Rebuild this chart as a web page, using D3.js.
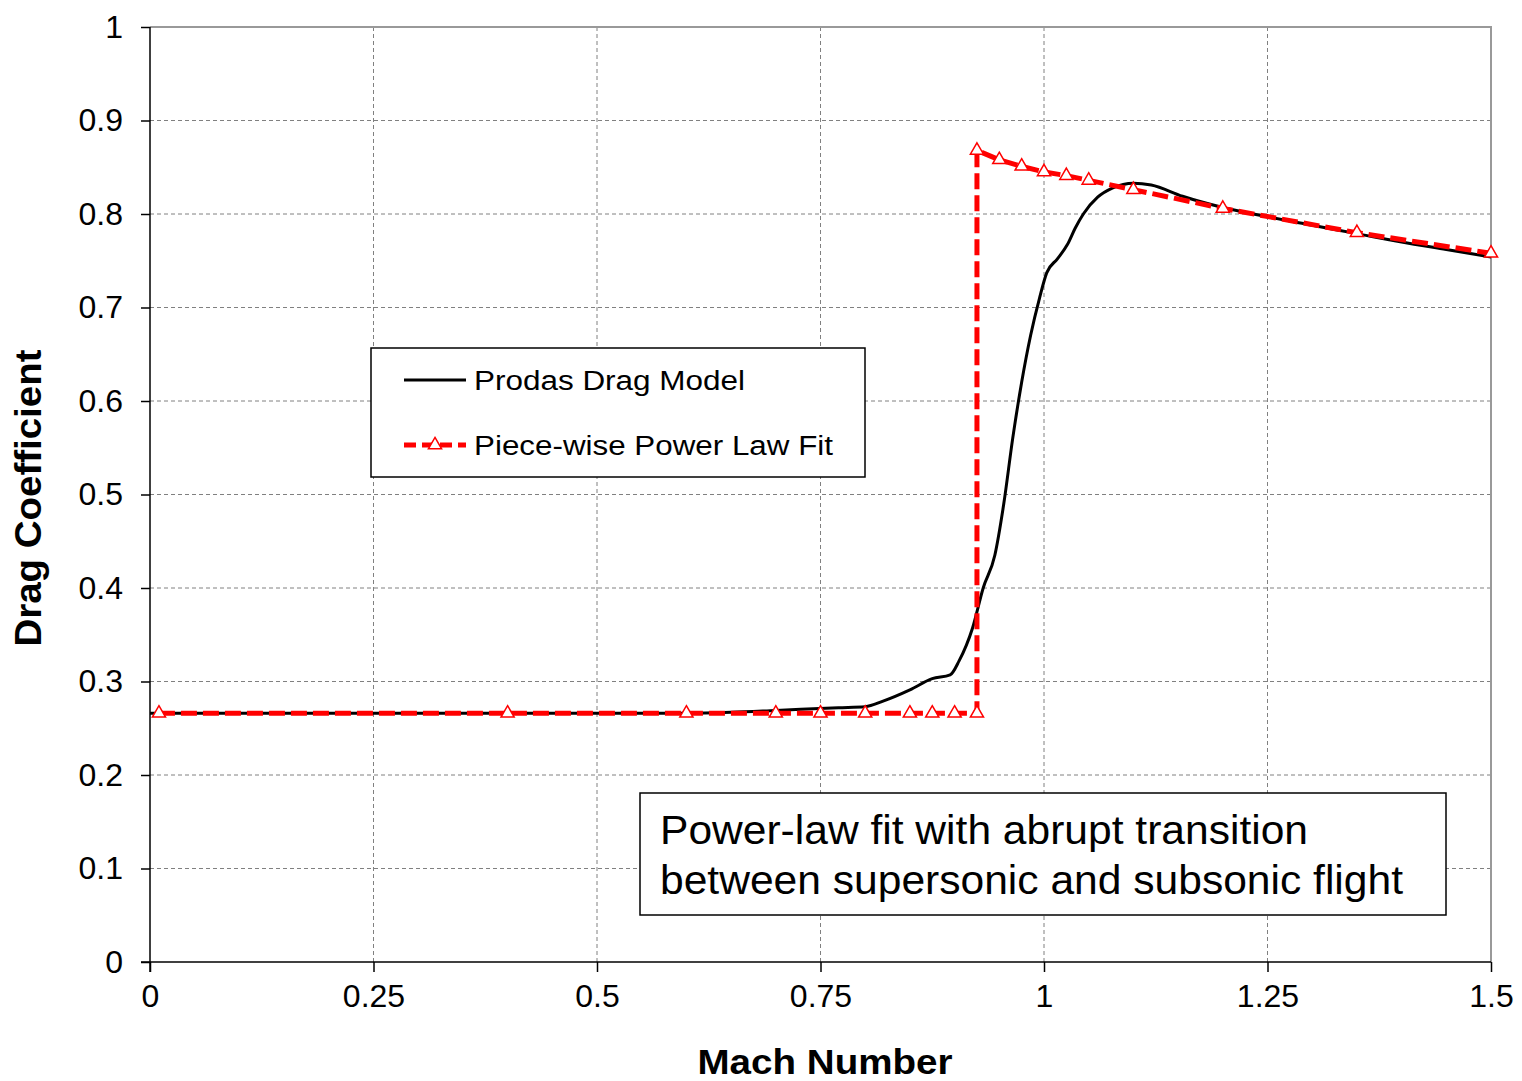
<!DOCTYPE html>
<html>
<head>
<meta charset="utf-8">
<script src="https://cdn.jsdelivr.net/npm/d3@7"></script>
<style>
  body { margin: 0; background: #fff; }
  svg { display: block; font-family: "Liberation Sans", Arial, sans-serif; }
  .grid line { stroke: #808080; stroke-width: 1; stroke-dasharray: 4,3; }
  .axis text { font-size: 32px; fill: #000; }
  .axis path, .axis line { stroke: #000; stroke-width: 1.5; }
</style>
</head>
<body>
<svg id="chart" width="1522" height="1081"></svg>
<script>
// Prodas drag model (Mach, Cd)
var prodasMach = [0, 0.1, 0.2, 0.3, 0.4, 0.5, 0.6, 0.65, 0.7, 0.77, 0.8, 0.82, 0.85, 0.875, 0.895, 0.905,
  0.92, 0.932, 0.945, 0.955, 0.965, 0.975, 0.985, 0.995, 1.003, 1.015, 1.026, 1.035, 1.044, 1.06, 1.077,
  1.1, 1.12, 1.155, 1.2, 1.25, 1.3, 1.35, 1.4, 1.45, 1.5];
var prodasCd = [0.266, 0.266, 0.266, 0.266, 0.266, 0.266, 0.266, 0.267, 0.269, 0.272, 0.273, 0.279, 0.291, 0.303, 0.307, 0.322,
  0.357, 0.40, 0.435, 0.49, 0.56, 0.62, 0.67, 0.71, 0.737, 0.752, 0.767, 0.785, 0.80, 0.818, 0.828,
  0.833, 0.831, 0.819, 0.807, 0.797, 0.788, 0.779, 0.770, 0.762, 0.754];

// Piece-wise power law fit
var fitMach = [0.01, 0.4, 0.6, 0.7, 0.75, 0.8, 0.85, 0.875, 0.9, 0.925,
  0.925, 0.95, 0.975, 1.0, 1.025, 1.05, 1.1, 1.2, 1.35, 1.5];
var fitCd = [0.266, 0.266, 0.266, 0.266, 0.266, 0.266, 0.266, 0.266, 0.266, 0.266,
  0.868, 0.858, 0.851, 0.845, 0.841, 0.836, 0.826, 0.806, 0.780, 0.758];

var xTicks = [0, 0.25, 0.5, 0.75, 1, 1.25, 1.5];
var xTickLabels = ["0", "0.25", "0.5", "0.75", "1", "1.25", "1.5"];
var yTicks = [0, 0.1, 0.2, 0.3, 0.4, 0.5, 0.6, 0.7, 0.8, 0.9, 1];
var yTickLabels = ["0", "0.1", "0.2", "0.3", "0.4", "0.5", "0.6", "0.7", "0.8", "0.9", "1"];

var legendLabels = ["Prodas Drag Model", "Piece-wise Power Law Fit"];
var noteLines = ["Power-law fit with abrupt transition", "between supersonic and subsonic flight"];

(function() {
  var svg = d3.select('#chart');
  var plotLeft = 150, plotRight = 1491, plotTop = 27, plotBottom = 962;

  var x = d3.scaleLinear().domain([0, 1.5]).range([plotLeft, plotRight]);
  var y = d3.scaleLinear().domain([0, 1]).range([plotBottom, plotTop]);

  // gridlines
  var grid = svg.append('g').classed('grid', true);
  grid.selectAll('.gx').data(xTicks.slice(1, -1)).enter().append('line')
    .attr('x1', function(d) { return x(d) }).attr('x2', function(d) { return x(d) })
    .attr('y1', plotTop).attr('y2', plotBottom);
  grid.selectAll('.gy').data(yTicks.slice(1, -1)).enter().append('line')
    .attr('y1', function(d) { return y(d) }).attr('y2', function(d) { return y(d) })
    .attr('x1', plotLeft).attr('x2', plotRight);

  // top / right frame
  svg.append('path')
    .attr('d', 'M' + plotLeft + ',' + plotTop + 'H' + plotRight + 'V' + plotBottom)
    .attr('fill', 'none').attr('stroke', '#999').attr('stroke-width', 2);

  // axes
  var xAxis = d3.axisBottom(x).tickValues(xTicks).tickSize(10).tickPadding(12)
    .tickFormat(function(d, i) { return xTickLabels[i] });
  svg.append('g').classed('axis', true)
    .attr('transform', 'translate(0,' + plotBottom + ')')
    .call(xAxis)
    .call(function(g) { g.select('.domain').attr('d', 'M' + (plotLeft - 9) + ',0H' + plotRight) });

  var yAxis = d3.axisLeft(y).tickValues(yTicks).tickSize(9).tickPadding(18)
    .tickFormat(function(d, i) { return yTickLabels[i] });
  svg.append('g').classed('axis', true)
    .attr('transform', 'translate(' + plotLeft + ',0)')
    .call(yAxis)
    .call(function(g) { g.select('.domain').attr('d', 'M0,' + plotTop + 'V' + (plotBottom + 10)) });

  // axis titles
  svg.append('text')
    .attr('x', 825).attr('y', 1074)
    .attr('text-anchor', 'middle')
    .attr('textLength', 255).attr('lengthAdjust', 'spacingAndGlyphs')
    .style('font-size', '35px').style('font-weight', 'bold')
    .text('Mach Number');
  svg.append('text')
    .attr('transform', 'translate(41,498) rotate(-90)')
    .attr('text-anchor', 'middle')
    .attr('textLength', 297).attr('lengthAdjust', 'spacingAndGlyphs')
    .style('font-size', '36px').style('font-weight', 'bold')
    .text('Drag Coefficient');

  // series
  var prodas = prodasMach.map(function(m, i) { return [m, prodasCd[i]] });
  var fit = fitMach.map(function(m, i) { return [m, fitCd[i]] });

  var line = d3.line()
    .x(function(d) { return x(d[0]) })
    .y(function(d) { return y(d[1]) })
    .curve(d3.curveMonotoneX);

  svg.append('path')
    .datum(prodas)
    .attr('d', line)
    .attr('fill', 'none').attr('stroke', '#000').attr('stroke-width', 3);

  var fitLine = d3.line()
    .x(function(d) { return x(d[0]) })
    .y(function(d) { return y(d[1]) });

  svg.append('path')
    .datum(fit)
    .attr('d', fitLine)
    .attr('fill', 'none').attr('stroke', '#ff0000').attr('stroke-width', 5)
    .attr('stroke-dasharray', '16,6');

  var tri = d3.symbol().type(d3.symbolTriangle).size(75);
  svg.selectAll('.marker').data(fit).enter().append('path')
    .classed('marker', true)
    .attr('d', tri)
    .attr('transform', function(d) { return 'translate(' + x(d[0]) + ',' + y(d[1]) + ')' })
    .attr('fill', '#fff').attr('stroke', '#ff0000').attr('stroke-width', 1.5);

  // legend
  var legend = svg.append('g').attr('transform', 'translate(371,348)');
  legend.append('rect')
    .attr('width', 494).attr('height', 129)
    .attr('fill', '#fff').attr('stroke', '#000').attr('stroke-width', 1.5);
  legend.append('line')
    .attr('x1', 33).attr('x2', 95).attr('y1', 32).attr('y2', 32)
    .attr('stroke', '#000').attr('stroke-width', 3);
  legend.append('line')
    .attr('x1', 33).attr('x2', 95).attr('y1', 97).attr('y2', 97)
    .attr('stroke', '#ff0000').attr('stroke-width', 5).attr('stroke-dasharray', '12,6');
  legend.append('path')
    .attr('d', tri)
    .attr('transform', 'translate(64,97)')
    .attr('fill', '#fff').attr('stroke', '#ff0000').attr('stroke-width', 1.5);
  legend.selectAll('.ltext').data(legendLabels).enter().append('text')
    .attr('x', 103)
    .attr('y', function(d, i) { return 42 + i * 65 })
    .attr('textLength', function(d, i) { return i == 0 ? 271 : 359 })
    .attr('lengthAdjust', 'spacingAndGlyphs')
    .style('font-size', '27px')
    .text(function(d) { return d });

  // annotation
  var note = svg.append('g').attr('transform', 'translate(640,793)');
  note.append('rect')
    .attr('width', 806).attr('height', 122)
    .attr('fill', '#fff').attr('stroke', '#000').attr('stroke-width', 1.5);
  note.selectAll('text').data(noteLines).enter().append('text')
    .attr('x', 20)
    .attr('y', function(d, i) { return 51 + i * 50 })
    .attr('textLength', function(d, i) { return i == 0 ? 648 : 743 })
    .attr('lengthAdjust', 'spacingAndGlyphs')
    .style('font-family', '"Liberation Sans Narrow", "Liberation Sans", Arial, sans-serif')
    .style('font-size', '40px')
    .text(function(d) { return d });
})();
</script>
</body>
</html>
